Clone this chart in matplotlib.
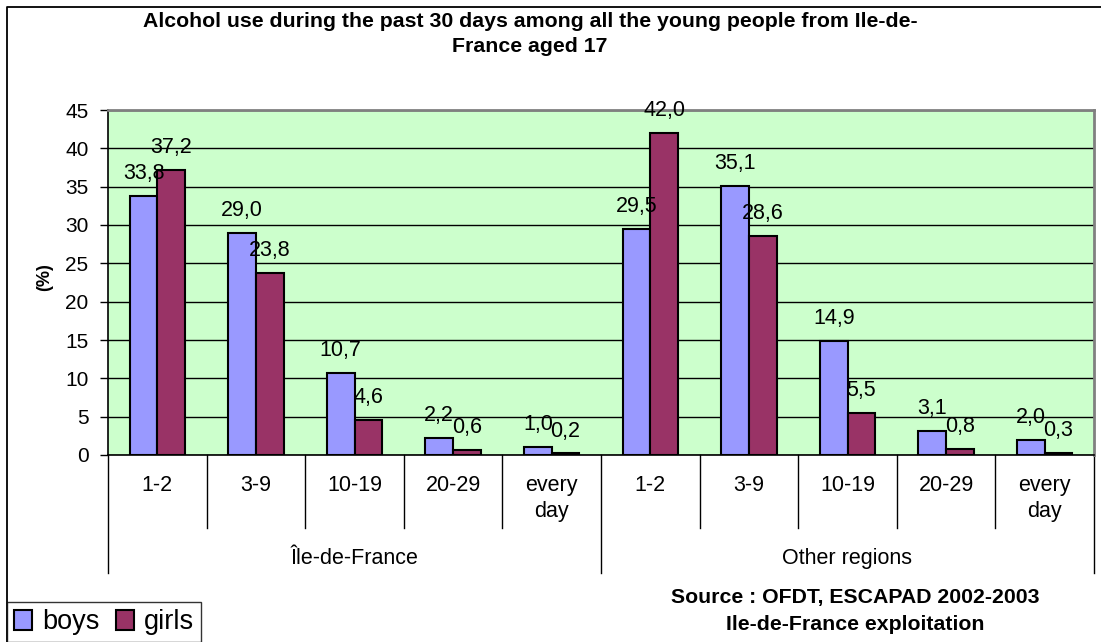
import matplotlib.pyplot as plt
from matplotlib.lines import Line2D
from matplotlib.patches import Patch
import numpy as np

plt.rcParams['font.family'] = ['Liberation Sans', 'DejaVu Sans']

# data
groups = ['Île-de-France', 'Other regions']
freq_labels = ['1-2', '3-9', '10-19', '20-29', 'every\nday']
boys = [33.8, 29.0, 10.7, 2.2, 1.0, 29.5, 35.1, 14.9, 3.1, 2.0]
girls = [37.2, 23.8, 4.6, 0.6, 0.2, 42.0, 28.6, 5.5, 0.8, 0.3]
yticks = list(range(0, 50, 5))

boys_color = '#9999FF'
girls_color = '#993366'
bg_color = '#CCFFCC'

W, H = 1101, 642
fig = plt.figure(figsize=(W / 100, H / 100), dpi=100)
ax = fig.add_axes([108 / W, 1 - 455 / H, (1094 - 108) / W, (455 - 110) / H])
ax.set_facecolor(bg_color)

x = np.arange(len(boys))
bar_w = 0.28
ax.bar(x - bar_w / 2, boys, bar_w, color=boys_color, edgecolor='black', linewidth=1.5, zorder=3)
ax.bar(x + bar_w / 2, girls, bar_w, color=girls_color, edgecolor='black', linewidth=1.5, zorder=3)

def fmt(v):
    return f"{v:.1f}".replace('.', ',')

for xi, v in zip(x, boys):
    ax.annotate(fmt(v), xy=(xi - bar_w / 2, v), xytext=(0, 12.2), textcoords='offset points',
                ha='center', va='baseline', fontsize=15.5, zorder=5)
for xi, v in zip(x, girls):
    ax.annotate(fmt(v), xy=(xi + bar_w / 2, v), xytext=(0, 12.2), textcoords='offset points',
                ha='center', va='baseline', fontsize=15.5, zorder=5)

ax.set_xlim(-0.5, len(boys) - 0.5)
ax.set_ylim(0, 45)
ax.set_yticks(yticks)
ax.set_yticklabels([str(t) for t in yticks], fontsize=15)
ax.tick_params(axis='y', direction='out', length=6, width=1, pad=8)
ax.set_xticks([])
ax.yaxis.grid(True, color='black', linewidth=1)
ax.set_axisbelow(True)
for s in ['top', 'right']:
    ax.spines[s].set_color('#808080')
    ax.spines[s].set_linewidth(2)
ax.spines['left'].set_color('black')
ax.spines['bottom'].set_color('black')
ax.spines['left'].set_linewidth(1.2)
ax.spines['bottom'].set_linewidth(1.2)

# category labels under the axis
trans = ax.get_xaxis_transform()
for i in range(len(boys)):
    ax.text(i, -0.058, freq_labels[i % 5], transform=trans, ha='center', va='top',
            fontsize=15.5, linespacing=1.3)
for i in range(len(boys) + 1):
    bottom = -0.342 if i % 5 == 0 else -0.212
    ax.add_line(Line2D([i - 0.5, i - 0.5], [0, bottom], transform=trans, color='black',
                       linewidth=1, clip_on=False))
for g, name in enumerate(groups):
    ax.text(g * 5 + 2, -0.299, name, transform=trans, ha='center', va='center', fontsize=15.5)

fig.text(45 / W, 1 - 277 / H, '(%)', rotation=90, ha='center', va='center',
         fontsize=13, fontweight='bold')

fig.text(530 / W, 1 - 34 / H, 'Alcohol use during the past 30 days among all the young people from Ile-de-\nFrance aged 17',
         ha='center', va='center', fontsize=15.3, fontweight='bold', linespacing=1.45)

fig.text(855 / W, 1 - 611 / H, 'Source : OFDT, ESCAPAD 2002-2003\nIle-de-France exploitation',
         ha='center', va='center', fontsize=15.3, fontweight='bold', linespacing=1.5)

# outer chart border
fig.add_artist(Line2D([7 / W, 7 / W, 1], [0, 1 - 7 / H, 1 - 7 / H], transform=fig.transFigure,
                      color='black', linewidth=1.3))

handles = [Patch(facecolor=boys_color, edgecolor='black', linewidth=1.5),
           Patch(facecolor=girls_color, edgecolor='black', linewidth=1.5)]
leg = fig.legend(handles, ['boys', 'girls'], loc='lower left', bbox_to_anchor=(7 / W, 0), ncol=2,
                 frameon=True, fancybox=False, fontsize=19.5, handlelength=0.67, handleheight=0.74,
                 handletextpad=0.37, columnspacing=0.6, borderpad=0.25, borderaxespad=0)
leg.get_frame().set_edgecolor('black')
leg.get_frame().set_linewidth(1)

fig.savefig('out.png', dpi=100)
